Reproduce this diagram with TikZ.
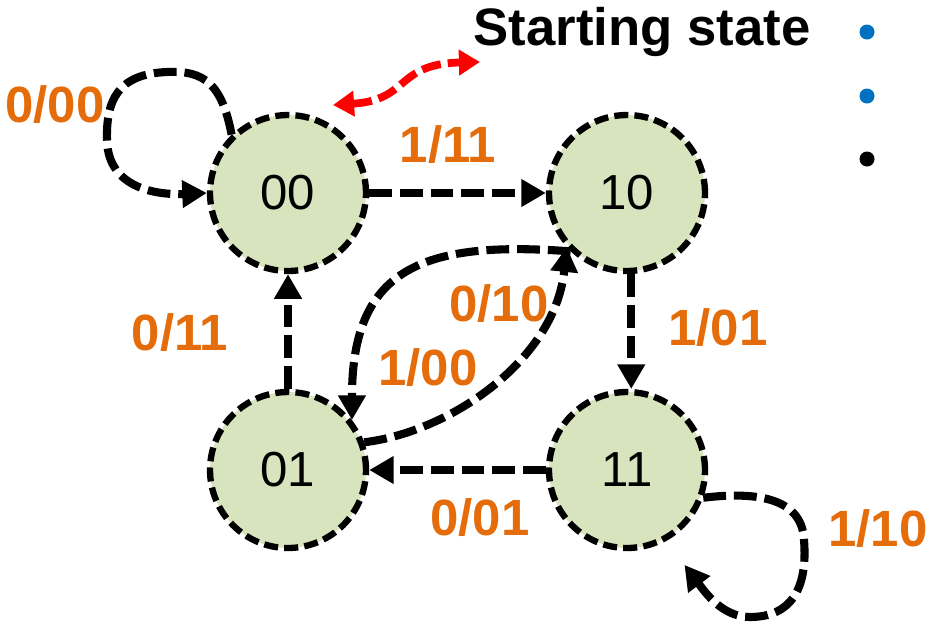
\documentclass[tikz,border=0pt]{standalone}
\usepackage{fontspec}
\setmainfont{Liberation Sans}
\usetikzlibrary{arrows.meta}
\definecolor{stategreen}{HTML}{D7E4BD}
\definecolor{outorange}{HTML}{E46C0A}
\definecolor{dotblue}{HTML}{0070C0}

\begin{document}
\begin{tikzpicture}[x=0.02cm,y=-0.02cm,
  state/.style={circle,draw,fill=stategreen,line width=3.6pt,dash pattern=on 8pt off 3.5pt,
    minimum size=3.12cm,inner sep=0pt,font=\fontsize{28}{32}\selectfont},
  trans/.style={line width=4.6pt,dash pattern=on 13pt off 4.5pt,
    -{Triangle[length=14pt,width=15pt]}},
  outlabel/.style={text=outorange,font=\fontsize{29}{32}\selectfont\bfseries},
  bullet/.style={circle,fill=#1,inner sep=0pt,minimum size=0.3cm}]

\useasboundingbox (0,0) rectangle (930,630);

\coordinate (A) at (288,193);
\coordinate (B) at (627,193);
\coordinate (C) at (288,470);
\coordinate (D) at (627,470);

\node[state] (s00) at (A){00};
\node[state] (s10) at (B){10};
\node[state] (s01) at (C){01};
\node[state] (s11) at (D){11};

\draw[trans] (s00)--(s10);
\draw[trans] (s10.-87)--(s11.87);
\draw[trans] (s11)--(s01);
\draw[trans] (s01)--(s00);

\draw[trans] (s01.20) .. controls (450,432) and (555,360) .. (s10.222);
\draw[trans] (s10.226) .. controls (420,240) and (352,270) .. (s01.38);

\draw[trans] (s00.134) .. controls (222,85) and (205,70) .. (167,72)
  .. controls (118,74) and (106,100) .. (107,140)
  .. controls (108,190) and (160,195) .. (s00.west);
\draw[trans,shorten >=0.6cm] (s11.-20) .. controls (750,492) and (802,495) .. (804,540)
  .. controls (808,590) and (790,617) .. (750,617)
  .. controls (722,617) and (705,592) .. (s11.-61);

\node[text=black,font=\fontsize{30}{34}\selectfont\bfseries] (st) at (642,32){Starting state};
\coordinate (redleft) at (333,105);
\coordinate (redright) at (480,62);
\draw[red,line width=4.4pt,dash pattern=on 11pt off 4pt,
  {Triangle[length=12pt,width=14pt]}-{Triangle[length=12pt,width=14pt]}]
  (redleft) .. controls (410,100) and (395,64) .. (redright);

\node[outlabel] (l000) at (55,105){0/00};
\node[outlabel] (l111) at (448,145){1/11};
\node[outlabel] (l011) at (180,333){0/11};
\node[outlabel] (l010) at (499,304){0/10};
\node[outlabel] (l100) at (428,368){1/00};
\node[outlabel] (l101) at (718,328){1/01};
\node[outlabel] (l001) at (480,518){0/01};
\node[outlabel] (l110) at (878,529){1/10};

\node[bullet=dotblue] (b1) at (867,32){};
\node[bullet=dotblue] (b2) at (867,96){};
\node[bullet=black] (b3) at (867,159){};

\end{tikzpicture}
\end{document}
